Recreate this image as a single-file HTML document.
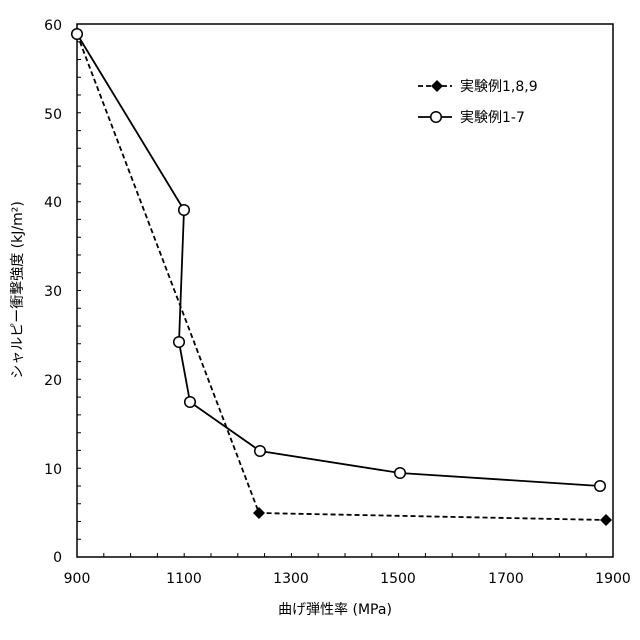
<!DOCTYPE html>
<html><head><meta charset="utf-8"><style>body{margin:0;background:#fff}svg{display:block}text{font-family:"DejaVu Sans","Noto Sans CJK JP",sans-serif;fill:#000}</style></head>
<body>
<svg width="640" height="640" viewBox="0 0 640 640" xmlns="http://www.w3.org/2000/svg">
<rect x="77" y="24" width="536" height="533" fill="none" stroke="#000" stroke-width="1.5"/>
<g stroke="#000" stroke-width="1">
<path d="M77 539.2h4M77 521.5h4M77 503.7h4M77 486h4M77 468.2h4M77 450.4h4M77 432.7h4M77 414.9h4M77 397.1h4M77 379.3h4M77 361.6h4M77 343.8h4M77 326h4M77 308.3h4M77 290.5h4M77 272.7h4M77 255h4M77 237.2h4M77 219.4h4M77 201.7h4M77 183.9h4M77 166.1h4M77 148.3h4M77 130.6h4M77 112.8h4M77 95h4M77 77.3h4M77 59.5h4M77 41.7h4"/>
<path d="M103.8 557v-4M130.6 557v-4M157.4 557v-4M184.2 557v-4M211 557v-4M237.8 557v-4M264.6 557v-4M291.4 557v-4M318.2 557v-4M345 557v-4M371.8 557v-4M398.6 557v-4M425.4 557v-4M452.2 557v-4M479 557v-4M505.8 557v-4M532.6 557v-4M559.4 557v-4M586.2 557v-4"/>
</g>
<g font-size="14" text-anchor="end">
<text x="62" y="562">0</text><text x="62" y="474">10</text><text x="62" y="385">20</text><text x="62" y="296">30</text><text x="62" y="207">40</text><text x="62" y="119">50</text><text x="62" y="30">60</text>
</g>
<g font-size="14" text-anchor="middle">
<text x="77" y="583">900</text><text x="184" y="583">1100</text><text x="291" y="583">1300</text><text x="398" y="583">1500</text><text x="506" y="583">1700</text><text x="613" y="583">1900</text>
</g>
<text x="335" y="614" font-size="14" text-anchor="middle">曲げ弾性率 (MPa)</text>
<text transform="translate(22 290) rotate(-90)" font-size="14" text-anchor="middle">シャルピー衝撃強度 (kJ/m²)</text>
<polyline points="77,34 259,513 606,520" fill="none" stroke="#000" stroke-width="1.8" stroke-dasharray="5,3"/>
<polyline points="77,34 184,210 179,342 190,402 260,451 400,473 600,486" fill="none" stroke="#000" stroke-width="1.8"/>
<g fill="#000"><path d="M259 507l6 6-6 6-6-6z"/><path d="M606 514l6 6-6 6-6-6z"/></g>
<g fill="#fff" stroke="#000" stroke-width="1.5">
<circle cx="77" cy="34" r="5.3"/><circle cx="184" cy="210" r="5.3"/><circle cx="179" cy="342" r="5.3"/><circle cx="190" cy="402" r="5.3"/><circle cx="260" cy="451" r="5.3"/><circle cx="400" cy="473" r="5.3"/><circle cx="600" cy="486" r="5.3"/>
</g>
<line x1="418" y1="86" x2="452" y2="86" stroke="#000" stroke-width="1.8" stroke-dasharray="5,3"/>
<path d="M437 80l6 6-6 6-6-6z" fill="#000"/>
<text x="460" y="91" font-size="14">実験例1,8,9</text>
<line x1="418" y1="117" x2="452" y2="117" stroke="#000" stroke-width="1.8"/>
<circle cx="436" cy="117" r="5.3" fill="#fff" stroke="#000" stroke-width="1.5"/>
<text x="460" y="122" font-size="14">実験例1-7</text>
</svg>
</body></html>
